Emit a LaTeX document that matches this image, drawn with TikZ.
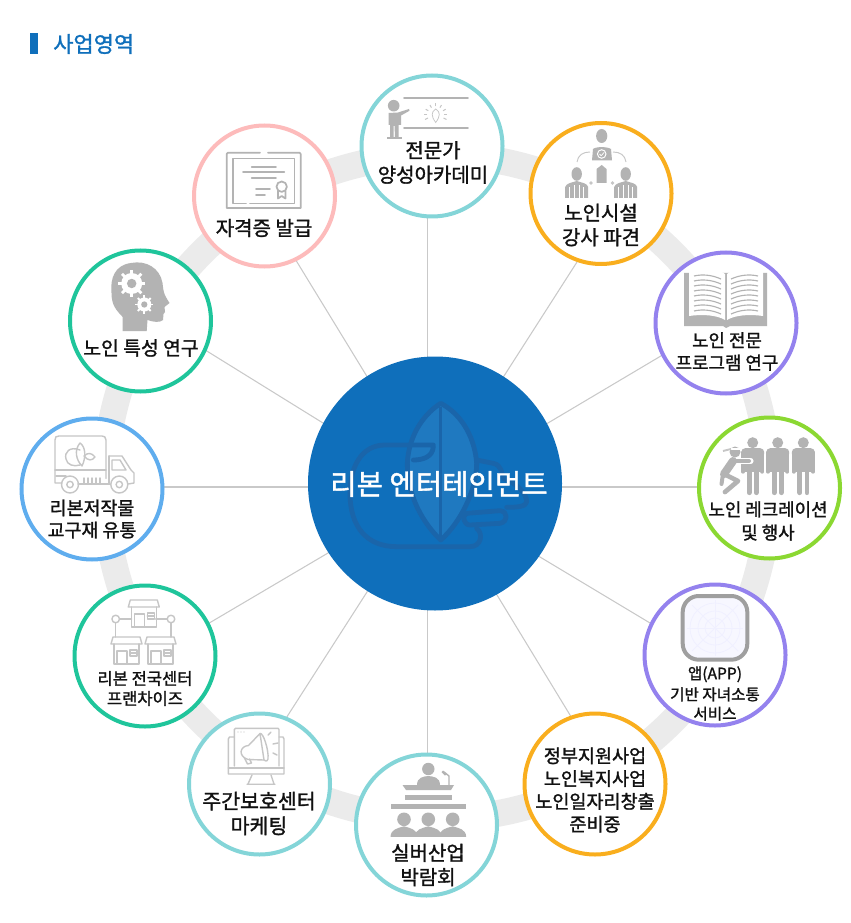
\documentclass[tikz,border=0pt]{standalone}
\usepackage{fontspec}
\newfontfamily\kr[FakeBold=1.4]{Noto Sans CJK KR}
\usetikzlibrary{calc}
\definecolor{igray}{HTML}{B3B3B3}
\definecolor{ilight}{HTML}{C6C6C6}
\definecolor{ringgray}{HTML}{EBEBEB}
\definecolor{spoke}{HTML}{C9C9C9}
\definecolor{brand}{HTML}{0F6FBB}
\definecolor{logodark}{HTML}{1A65AA}
\definecolor{logolight}{HTML}{1F79C0}
\definecolor{cteal}{HTML}{84D5D8}
\definecolor{cpink}{HTML}{FDBBBB}
\definecolor{corange}{HTML}{F9AE1E}
\definecolor{cpurple}{HTML}{9482EE}
\definecolor{cgreen}{HTML}{8BD832}
\definecolor{cblue}{HTML}{5FADEE}
\definecolor{csea}{HTML}{1FC59B}
\definecolor{txt}{HTML}{111111}
\tikzset{
  ringnode/.style={circle,draw,fill=white,line width=3pt,minimum size=105.75pt,inner sep=0pt},
  lbl/.style={text=txt,align=center,inner sep=0pt,font=\kr},
  spokeline/.style={draw=spoke,line width=.8pt,shorten >=-8pt,shorten <=-8pt},
  ifill/.style={fill=igray,draw=none},
  iline/.style={draw=igray,line width=1.3pt,line cap=round,line join=round},
  thin/.style={draw=ilight,line width=1.05pt,line join=round,line cap=round},
  logoline/.style={draw=logodark,line width=3.6pt,line cap=round,line join=round},
}
\newcommand\fs[1]{\fontsize{#1}{#1}\selectfont}
\newcommand\shopicon[2]{\begin{scope}[shift={(#1,#2)}]
  \draw[thin] (1,7) -- (0,7) -- (2,0) -- (29,0) -- (31,7) -- cycle;
  \draw[thin] (3,7) -- (3,27) -- (28,27) -- (28,7);
  \draw[thin] (6,27) -- (6,14) -- (16,14) -- (16,27);
  \draw[thin] (19,13) rectangle (26,19);
  \draw[thin] (19,16) -- (26,16);
\end{scope}}
\newcommand\suitman[2]{\begin{scope}[shift={(#1,#2)}]
  \fill[igray] (0,0) ellipse (5.2 and 6.8);
  \fill[igray] (-11.5,24) -- (-11.5,13) .. controls (-10,9) and (-6,9) .. (0,7) .. controls (6,9) and (10,9) .. (11.5,13) -- (11.5,24) -- cycle;
  \draw[white,line width=.6pt] (-7,24) -- (-7,13) (7,24) -- (7,13) (-2.5,24) -- (-2.5,11) (2.5,24) -- (2.5,11);
\end{scope}}
\newcommand\stander[2]{\begin{scope}[shift={(#1,#2)}]
  \fill[igray] (0,0) circle (5.5);
  \fill[igray,rounded corners=3pt] (-11.5,5.5) rectangle (11.5,15);
  \fill[igray] (-7.5,9) rectangle (7.5,29);
  \draw[igray,line width=3pt,line cap=round] (-9.7,10) -- (-9.7,29) (9.7,10) -- (9.7,29);
  \draw[igray,line width=3.6pt,line cap=round] (-3.6,27) -- (-3.6,50) (3.6,27) -- (3.6,50);
\end{scope}}
\newcommand\audience[2]{\begin{scope}[shift={(#1,#2)}]
  \fill[igray] (0,0) circle (6.8);
  \fill[igray] (-13.5,17.5) .. controls (-13,10) and (-7,9) .. (0,7) .. controls (7,9) and (13,10) .. (13.5,17.5) -- cycle;
\end{scope}}
\newcommand\gear[3]{\begin{scope}[shift={(#1,#2)}]
  \fill[white] (0,0) circle (#3);
  \foreach \a in {0,45,...,315}{\draw[white,line width=#3*0.2pt] (0,0) -- (\a:#3*1.3);}
  \fill[igray] (0,0) circle (#3*0.45);
\end{scope}}
\begin{document}
\begin{tikzpicture}[x=.75pt,y=-.75pt]
\useasboundingbox (0,0) rectangle (850,923);
% ring
\coordinate (ringc) at (437,487);
\draw[ringgray,line width=20pt] (ringc) circle (332);
% spokes
\foreach \i/\hx/\hy/\ex/\ey in {1/427.7/360/427.7/218,2/504/376/577/262,3/548/423/660/356.5,4/560/487/697/487,5/540/557/650/623,6/497/595/570/715,7/427.7/605/427.7/753,8/367/592/287/716.7,9/328/553/211/622,10/310/487/164/487,11/323/423/210/353,12/366.7/376/297/262}{
  \coordinate (h\i) at (\hx,\hy);
  \coordinate (s\i) at (\ex,\ey);
  \draw[spokeline] (h\i) -- (s\i);
}
% title
\node[fill=brand,minimum width=6pt,minimum height=15.75pt,inner sep=0pt] (tbar) at (34,43.5) {};
\node[inner sep=0pt,anchor=west,text=brand,font=\kr\fs{16.5}] (title) at (53,44) {사업영역};
% hub
\node[circle,fill=brand,minimum size=190.5pt,inner sep=0pt] (center) at (435,483.5) {};
% logo
\begin{scope}[shift={(300,350)},x=.25pt,y=-.25pt]
 \fill[logolight] (422,160) .. controls (360,200) and (325,270) .. (322,340) .. controls (322,440) and (370,520) .. (422,570) .. controls (480,520) and (530,420) .. (530,340) .. controls (525,270) and (490,195) .. (422,160) -- cycle;
 \draw[logoline] (422,160) .. controls (360,200) and (325,270) .. (322,340) .. controls (322,440) and (370,520) .. (422,570) .. controls (480,520) and (530,420) .. (530,340) .. controls (525,270) and (490,195) .. (422,160) -- cycle;
 \draw[logodark,line width=2pt] (422,170) -- (422,560);
 \draw[logoline] (400,290) .. controls (398,320) and (370,330) .. (340,330)
   (400,285) -- (255,285) .. controls (185,285) and (150,350) .. (150,430) .. controls (150,530) and (200,590) .. (290,590) -- (510,590) .. controls (545,590) and (550,550) .. (530,535);
 \draw[logoline] (530,330) -- (580,340) .. controls (605,345) and (605,370) .. (610,385) .. controls (650,400) and (680,430) .. (680,455) .. controls (680,470) and (650,472) .. (620,472);
 \draw[logoline] (500,490) -- (600,482) .. controls (625,485) and (625,515) .. (600,520) -- (510,525) .. controls (490,525) and (485,495) .. (500,490);
\end{scope}
\node[text=white,inner sep=0pt,font=\kr\fs{21.5}] (ctext) at (439,484) {리본 엔터테인먼트};
% nodes
\node[ringnode,draw=cteal]   (n1)  at (432,146) {};
\node[ringnode,draw=corange] (n2)  at (601,193.5) {};
\node[ringnode,draw=cpurple] (n3)  at (726,323) {};
\node[ringnode,draw=cgreen]  (n4)  at (769.5,488) {};
\node[ringnode,draw=cpurple] (n5)  at (715,655) {};
\node[ringnode,draw=corange] (n6)  at (595,784) {};
\node[ringnode,draw=cteal]   (n7)  at (426.5,825) {};
\node[ringnode,draw=cteal]   (n8)  at (259.5,784) {};
\node[ringnode,draw=csea]    (n9)  at (145,656) {};
\node[ringnode,draw=cblue]   (n10) at (92,489) {};
\node[ringnode,draw=csea]    (n11) at (140.5,321) {};
\node[ringnode,draw=cpink]   (n12) at (264.5,196) {};
% labels
\node[lbl,font=\kr\fs{15}] (t1) at (433,162.5) {전문가\\[3.4pt]양성아카데미};
\node[lbl,font=\kr\fs{15}] (t2) at (601,225) {노인시설\\[3.4pt]강사 파견};
\node[lbl,font=\kr\fs{13.4}] (t3) at (727,351.5) {노인 전문\\[3.4pt]프로그램 연구};
\node[lbl,font=\kr\fs{13.4}] (t4) at (768,521) {노인 레크레이션\\[4pt]및 행사};
\node[lbl,font=\kr\fs{11.7}] (t5) at (715,693.5) {앱(APP)\\[2.8pt]기반 자녀소통\\[2.8pt]서비스};
\node[lbl,font=\kr\fs{13.9}] (t6) at (595,790) {정부지원사업\\[3.2pt]노인복지사업\\[3.2pt]노인일자리창출\\[3.2pt]준비중};
\node[lbl,font=\kr\fs{15}] (t7) at (428,865) {실버산업\\[3.2pt]박람회};
\node[lbl,font=\kr\fs{15.4}] (t8) at (259,813.5) {주간보호센터\\[3.2pt]마케팅};
\node[lbl,font=\kr\fs{12.4}] (t9) at (145,688.5) {리본 전국센터\\[2.6pt]프랜차이즈};
\node[lbl,font=\kr\fs{13.8}] (t10) at (92,519) {리본저작물\\[2.8pt]교구재 유통};
\node[lbl,font=\kr\fs{14.5}] (t11) at (141,348) {노인 특성 연구};
\node[lbl,font=\kr\fs{15}] (t12) at (264,228) {자격증 발급};
% ---- icon 1: lecturer
\draw[iline] (404,97.7) -- (468,97.7) (404,127.7) -- (468,127.7);
\fill[igray] (393.7,105.7) circle (5.8);
\fill[igray] (388.5,113) -- (398,112.5) -- (409,109) -- (409.5,110.8) -- (401,115.5) -- (401,125) -- (398.5,125) -- (398.5,137) -- (395,137) -- (394.5,126) -- (393.5,126) -- (393.5,137) -- (390,137) -- (390,125) -- (388.5,125) -- cycle;
\draw[igray,line width=.9pt] (387,138) -- (402,138);
\draw[draw=ilight,line width=.55pt] (435.7,109) .. controls (431,112) and (431,116) .. (435.7,122.5) .. controls (440.5,116) and (440.5,112) .. (435.7,109) -- cycle;
\foreach \a in {0,30,...,180}{\draw[ilight,line width=.75pt] ($(435.7,115)+(\a:-8.5)$) -- ($(435.7,115)+(\a:-11.5)$);}
\draw[ilight,line width=.75pt] (425,119.5) -- (428,118) (446.5,119.5) -- (443.5,118);
% ---- icon 2: org
\fill[igray] (601.7,136) ellipse (5.6 and 7);
\fill[igray] (592,160.5) -- (593,149) .. controls (596,146.5) and (607,146.5) .. (611,149) -- (612,160.5) -- cycle;
\fill[white] (601.7,154) circle (4.8);
\fill[igray] (601.7,154) circle (3.6);
\draw[white,line width=.55pt] (599.5,154) -- (601.2,155.7) -- (604.2,152.4);
\draw[ilight,line width=.7pt] (577,162) .. controls (578,155) and (583,152) .. (590,152) (626,162) .. controls (625,155) and (620,152) .. (613,152);
\suitman{576.7}{174}
\suitman{625.7}{174}
\fill[igray] (601.7,165) -- (606.5,169) -- (606.5,183) -- (596.5,183) -- (596.5,169) -- cycle;
\fill[ilight] (591,183) circle (1.8) (612.5,183) circle (1.8);
% ---- icon 3: book
\fill[igray] (684,273) -- (684,326) -- (723,326) -- (726,328) -- (730,326) -- (767,326) -- (767,273) -- cycle;
\fill[white] (689,270) .. controls (702,267) and (717,268) .. (725,274) -- (725,320) .. controls (717,315) and (702,314) .. (689,316) -- cycle;
\fill[white] (763,270) .. controls (750,267) and (735,268) .. (727,274) -- (727,320) .. controls (735,315) and (750,314) .. (763,316) -- cycle;
\foreach \d in {0,5,...,35}{
  \draw[igray,line width=.85pt] (694,{276+\d}) .. controls (703,{274+\d}) and (712,{275+\d}) .. (721,{279+\d});
  \draw[igray,line width=.85pt] (758,{276+\d}) .. controls (749,{274+\d}) and (740,{275+\d}) .. (731,{279+\d});
}
% ---- icon 4: recreation
\stander{752.7}{442.7}
\stander{777.7}{442.7}
\stander{803.3}{442.7}
\fill[igray] (735,452) circle (5.5);
\draw[white,line width=1pt] (729,449) -- (741,449);
\draw[ilight,line width=1.4pt] (723,451) -- (731,449);
\draw[white,line width=3.8pt,line cap=round] (735,461) -- (751,461);
\draw[igray,line width=3pt,line cap=round] (735,461) -- (749,461);
\draw[igray,line width=6pt,line cap=round] (733,461) -- (724,474);
\draw[igray,line width=3.5pt,line cap=round,line join=round] (724,474) -- (738,481) -- (725,492);
\draw[igray,line width=3pt,line cap=round] (723,474) -- (721.5,484);
% ---- icon 5: app
\fill[blue!3!white,rounded corners=11pt] (684,597) rectangle (746,659);
\draw[draw=blue!6!white,line width=.6pt] (715,628) circle (10) (715,628) circle (17) (715,628) circle (25);
\draw[draw=blue!6!white,line width=.6pt] (692,605) -- (738,651) (738,605) -- (692,651);
\draw[draw=blue!6!white,line width=.6pt] (715,600) -- (715,656) (687,628) -- (743,628);
\draw[draw=gray!75!white,line width=3pt,rounded corners=12pt] (682.7,596) rectangle (747.3,659.7);
% ---- icon 7: expo
\fill[igray] (428.3,769) circle (6.2);
\fill[igray] (417,785) .. controls (417,777) and (424,776.5) .. (428.3,776) .. controls (433,776.5) and (440,777) .. (440,785) -- cycle;
\fill[igray] (402.5,785) -- (454,785) -- (451,790) -- (406,790) -- cycle;
\fill[igray] (405,795) rectangle (451.7,799.6);
\fill[igray] (390.7,804.3) rectangle (465.7,808.7);
\draw[igray,line width=1pt] (444,772) -- (449,776) -- (449,785);
\fill[igray] (443,770.5) -- (447,774) -- (445,775.5) -- (441.5,772) -- cycle;
\audience{404}{819.3}
\audience{428.3}{819.3}
\audience{452.7}{819.3}
% ---- icon 8: marketing
\draw[thin] (234.3,737) -- (229.5,737) -- (228.3,739) -- (228.3,774) -- (284,774) -- (284,739) -- (283,737) -- (279,737);
\draw[thin] (228.3,768) -- (284,768);
\draw[thin] (234.3,766) -- (234.3,729.5) -- (235.5,728.3) -- (278,728.3) -- (279,729.5) -- (279,766);
\draw[thin] (252,775) -- (248,784) (271,775) -- (274,784) (247,784.2) -- (275,784.2);
\foreach \x in {238,241,244}{\fill[ilight] (\x,732) circle (.7);}
\draw[thin] (248.5,745.5) .. controls (240,746) and (237.5,756) .. (248,759.5) -- (264,760) -- (260,733.5) -- cycle;
\draw[thin] (260,733.5) .. controls (263,732) and (269,750) .. (268,759) .. controls (267,762) and (265,761) .. (264,760);
\draw[thin] (244.5,758) -- (247.5,764) -- (251.5,763) -- (249.5,759);
\draw[thin] (268,735) -- (271,732) (273,744) -- (278,743) (273,753) -- (277,755);
% ---- icon 9: shops
\shopicon{128.3}{600}
\shopicon{111}{637}
\shopicon{145}{637}
\draw[thin] (115.7,619) circle (3.8) (171,619) circle (3.8);
\draw[thin] (119.5,619) -- (131.5,619) (155.7,619) -- (167.2,619) (115.7,622.8) -- (115.7,637) (171,622.8) -- (171,637);
% ---- icon 10: truck
\draw[thin] (106,478.5) -- (106,440) .. controls (106,437) and (104,436) .. (102,436) -- (59,436) .. controls (56,436) and (55,437) .. (55,440) -- (55,483) -- (62,483);
\draw[thin] (55,470) -- (106,470);
\draw[thin] (56,476) -- (66,476) (78,484) -- (110,484) ;
\foreach \x in {84,88,92,96,100}{\draw[thin] (\x,478) -- (\x,483);}
\draw[thin] (109,456) -- (122,456) -- (131,470) -- (134,473) -- (134,483) -- (128,484);
\draw[thin] (109,456) -- (109,484);
\draw[thin] (112,460) -- (120,460) -- (126,470) -- (112,470) -- cycle;
\draw[thin] (70,484.5) circle (8.5) (70,484.5) circle (3.2);
\draw[thin] (119.3,484.5) circle (8.5) (119.3,484.5) circle (3.2);
\draw[thin] (80,450) .. controls (70,446) and (64,452) .. (66,459) .. controls (67,465) and (74,467) .. (80,465);
\draw[thin] (80,443) .. controls (86,447) and (86,458) .. (82,466) .. controls (76,460) and (74,450) .. (80,443) -- cycle;
\draw[thin] (84,456) .. controls (88,452) and (92,453) .. (95,457) .. controls (92,461) and (88,461) .. (84,456) -- cycle;
% ---- icon 11: head
\fill[igray] (122.7,331) -- (122.7,317) .. controls (116,310) and (111.5,305) .. (111.5,293) .. controls (110,278) and (115,265) .. (131,263) .. controls (146,260) and (160,268) .. (162.5,283) .. controls (163.5,291) and (163,293) .. (169.5,303) -- (164.5,307) -- (165,312) -- (163.5,314) -- (163,320) .. controls (160,323) and (153,322) .. (147.5,320) -- (146.7,331) -- cycle;
\gear{131.7}{283.5}{10.5}
\gear{144.3}{304.5}{7}
% ---- icon 12: certificate
\draw[iline] (260,152.7) -- (228,152.7) -- (226.7,154) -- (226.7,208) -- (300.7,208) -- (300.7,154) -- (299.5,152.7) -- (268,152.7);
\draw[iline] (246,203.5) -- (233,203.5) -- (233,158.5) -- (294.5,158.5) -- (294.5,203.5) -- (250,203.5);
\draw[iline] (251.7,166.7) -- (276,166.7) (243,172.3) -- (284.3,172.3) (251.7,178) -- (276,178) (256,189) -- (270,189) (256,194.7) -- (265,194.7);
\draw[iline] (281.7,186.7) circle (5.2);
\draw[iline] (278,191) -- (278,198.5) -- (281.7,196) -- (285.4,198.5) -- (285.4,191);
\end{tikzpicture}
\end{document}
